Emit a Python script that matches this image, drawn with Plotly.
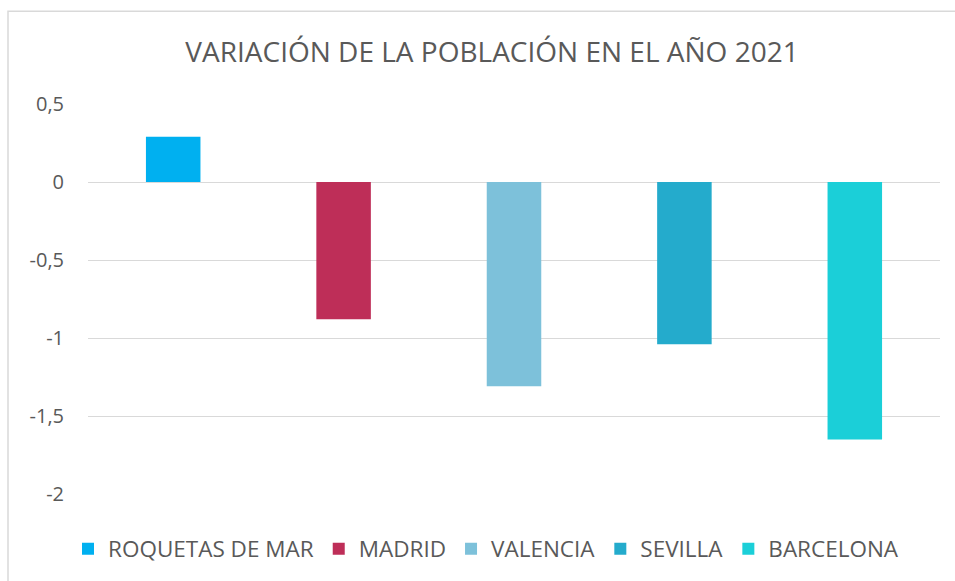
import plotly.graph_objects as go

# Population change in 2021 (percent), one bar per city
cities = ["ROQUETAS DE MAR", "MADRID", "VALENCIA", "SEVILLA", "BARCELONA"]
variation = [0.29, -0.88, -1.31, -1.04, -1.65]
colors = ["#00B0F0", "#BE2E58", "#7DC1DA", "#24ABCC", "#1BCFD8"]

tick_vals = [0.5, 0, -0.5, -1, -1.5, -2]
tick_text = ["0,5", "0", "-0,5", "-1", "-1,5", "-2"]

FONT = "Open Sans"
GREY_TEXT = "#595959"

fig = go.Figure()
for city, val, col in zip(cities, variation, colors):
    fig.add_trace(go.Bar(
        x=[city], y=[val], name=city,
        marker=dict(color=col, line=dict(width=0)),
        width=0.32,
    ))

fig.update_layout(
    width=955, height=581,
    margin=dict(l=88, r=15, t=104, b=86),
    paper_bgcolor="white", plot_bgcolor="white",
    barmode="overlay",
    font=dict(family=FONT, color=GREY_TEXT),
    title=dict(
        text="VARIACIÓN DE LA POBLACIÓN EN EL AÑO 2021",
        x=492 / 955, xref="container", xanchor="center",
        y=1 - 52 / 581, yref="container", yanchor="middle",
        font=dict(family=FONT, size=28, color=GREY_TEXT),
    ),
    xaxis=dict(showticklabels=False, showgrid=False, zeroline=False,
               showline=False, ticks=""),
    yaxis=dict(range=[-2, 0.5], tickvals=tick_vals, ticktext=tick_text,
               showgrid=True, gridcolor="#D9D9D9", gridwidth=1.3,
               zeroline=True, zerolinecolor="#D9D9D9", zerolinewidth=1.3,
               showline=False, ticks="", ticklabelstandoff=23,
               tickfont=dict(family=FONT, size=20, color=GREY_TEXT)),
    legend=dict(orientation="h", x=(68 - 88) / 852, xanchor="left",
                y=(495 - 549) / 391, yanchor="middle",
                font=dict(family=FONT, size=22.5, color=GREY_TEXT),
                itemwidth=30, tracegroupgap=0, bgcolor="rgba(0,0,0,0)"),
    showlegend=True,
)

# Chart-area frame (left and top edges)
fig.add_shape(type="rect", xref="paper", yref="paper",
              x0=(8 - 88) / 852, x1=(990 - 88) / 852,
              y0=(495 - 600) / 391, y1=(495 - 11) / 391,
              line=dict(color="#D9D9D9", width=1.5), fillcolor="rgba(0,0,0,0)",
              layer="below")

fig.write_html("out.html")
